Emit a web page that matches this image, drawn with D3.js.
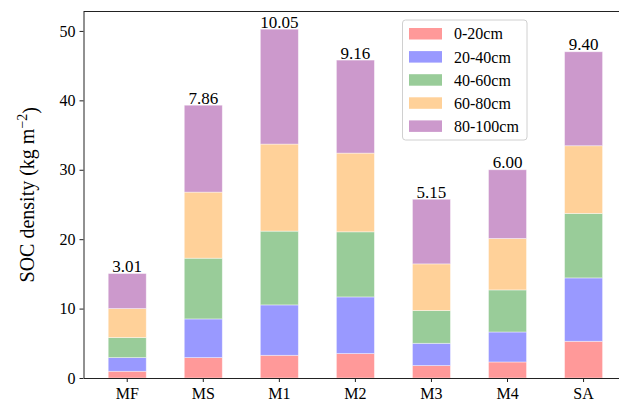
<!DOCTYPE html>
<meta charset="utf-8">
<script src="https://d3js.org/d3.v7.min.js"></script>
<style>
  body { margin: 0; background: #fff; }
  svg text { font-family: "Times New Roman", "Liberation Serif", Tinos, "DejaVu Serif", serif !important; fill: #000; }
</style>
<div id="my_dataviz"></div>
<script>

  // data
  var sites = ["MF", "MS", "M1", "M2", "M3", "M4", "SA"];
  var layers = ["0-20cm", "20-40cm", "40-60cm", "60-80cm", "80-100cm"];
  var d0_20   = [0.97, 2.94, 3.27, 3.52, 1.79, 2.31, 5.29];
  var d20_40  = [1.97, 5.57, 7.26, 8.16, 3.21, 4.32, 9.13];
  var d40_60  = [2.89, 8.75, 10.63, 9.38, 4.72, 6.06, 9.29];
  var d60_80  = [4.17, 9.52, 12.54, 11.34, 6.72, 7.41, 9.75];
  var d80_100 = [5.05, 12.52, 16.55, 13.40, 9.31, 9.90, 13.54];
  var topLabels = ["3.01", "7.86", "10.05", "9.16", "5.15", "6.00", "9.40"];
  var yTicks = [0, 10, 20, 30, 40, 50];

  var colors = ["#ff9999", "#9999ff", "#99cc99", "#ffd199", "#cc99cc"];

  var W = 619, H = 404;
  var margin = {top: 11.5, left: 83.5, bottom: 26},
      width = 627.3 - margin.left,
      height = 378 - margin.top;

  var svg = d3.select("#my_dataviz")
    .append("svg")
      .attr("width", W)
      .attr("height", H)
    .append("g")
      .attr("transform", "translate(" + margin.left + "," + margin.top + ")");

  // stack the layers
  var rows = sites.map(function (s, i) {
    return {site: s, "0-20cm": d0_20[i], "20-40cm": d20_40[i], "40-60cm": d40_60[i],
            "60-80cm": d60_80[i], "80-100cm": d80_100[i]};
  });
  var stacked = d3.stack().keys(layers)(rows);

  var x = d3.scaleBand()
    .domain(sites)
    .range([0, width])
    .paddingInner(0.5)
    .paddingOuter(0.325);

  var y = d3.scaleLinear()
    .domain([0, 52.8])
    .range([height, 0]);

  // bars
  svg.append("g")
    .selectAll("g")
    .data(stacked)
    .enter()
    .append("g")
      .attr("fill", function (d, i) { return colors[i]; })
    .selectAll("rect")
    .data(function (d) { return d; })
    .enter()
    .append("rect")
      .attr("x", function (d) { return x(d.data.site); })
      .attr("y", function (d) { return y(d[1]); })
      .attr("width", x.bandwidth())
      .attr("height", function (d) { return y(d[0]) - y(d[1]); })
      .attr("stroke", "#fff")
      .attr("stroke-opacity", 0.5)
      .attr("stroke-width", 0.8);

  // labels on top
  var tops = stacked[stacked.length - 1];
  svg.append("g")
    .selectAll("text")
    .data(tops)
    .enter()
    .append("text")
      .attr("x", function (d) { return x(d.data.site) + x.bandwidth() / 2; })
      .attr("y", function (d) { return y(d[1]) - 1.5; })
      .attr("text-anchor", "middle")
      .style("font-size", "17px")
      .text(function (d, i) { return topLabels[i]; });

  // axes
  var xAxis = svg.append("g")
    .attr("transform", "translate(0," + height + ")")
    .call(d3.axisBottom(x).tickSize(4).tickSizeOuter(0).tickPadding(4));
  var yAxis = svg.append("g")
    .call(d3.axisLeft(y).tickValues(yTicks).tickSize(4).tickSizeOuter(0).tickPadding(4));
  [xAxis, yAxis].forEach(function (a) {
    a.attr("font-family", null);
    a.selectAll("text").style("font-size", "16px");
    a.selectAll("line").attr("stroke", "#222");
    a.select(".domain").attr("stroke", "#222").attr("stroke-width", 1);
  });
  xAxis.selectAll("text").attr("dy", "0.8em");

  // top spine
  svg.append("line")
    .attr("x1", 0).attr("x2", width)
    .attr("y1", 0).attr("y2", 0)
    .attr("stroke", "#222");

  // y label
  var yl = svg.append("text")
    .attr("transform", "translate(-50," + (height / 2) + ") rotate(-90)")
    .attr("text-anchor", "middle")
    .style("font-size", "20px");
  yl.append("tspan").text("SOC density (kg m");
  yl.append("tspan").attr("dy", "-0.5em").style("font-size", "14px").text("\u22122");
  yl.append("tspan").attr("dy", "0.5em").text(")");

  // legend
  var lg = svg.append("g").attr("transform", "translate(" + (402.5 - margin.left) + "," + (20 - margin.top) + ")");
  lg.append("rect")
    .attr("width", 124.5).attr("height", 120)
    .attr("rx", 3)
    .attr("fill", "#fff").attr("fill-opacity", 0.8)
    .attr("stroke", "#d0d0d0");
  layers.forEach(function (l, i) {
    lg.append("rect")
      .attr("x", 6.5).attr("y", 8 + i * 23.1)
      .attr("width", 33).attr("height", 11.5)
      .attr("fill", colors[i]);
    lg.append("text")
      .attr("x", 51.5).attr("y", 13.8 + i * 23.1)
      .attr("dy", "0.35em")
      .style("font-size", "16px")
      .text(l);
  });

</script>
